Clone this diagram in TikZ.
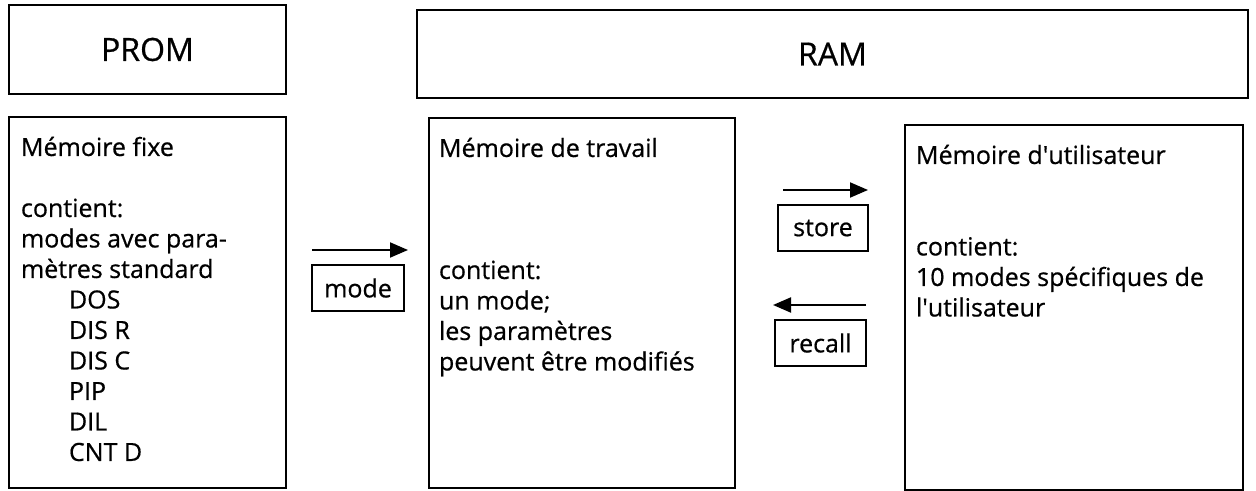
\documentclass[tikz,border=0pt]{standalone}
\usepackage{fontspec}
\setmainfont{Open Sans}[FakeBold=0.6]
\usetikzlibrary{arrows.meta,positioning,calc}

\begin{document}
\begin{tikzpicture}[x=0.5pt,y=-0.5pt,
  box/.style={draw,line width=1.1pt,inner sep=0pt,outer sep=0pt,anchor=north west},
  big/.style={font=\fontsize{16}{19}\selectfont},
  lbl/.style={draw,line width=1pt,inner sep=0pt,outer sep=0pt,minimum height=23pt,
    font=\fontsize{12.5}{15.25}\selectfont},
  txt/.style={inner sep=0pt,outer sep=0pt,font=\fontsize{12.5}{15.25}\selectfont},
  arr/.style={line width=1pt,-{Triangle[length=9pt,width=7.5pt]}}]
\useasboundingbox (0,0) rectangle (1256,491);

\node[box,big,minimum width=138.5pt,minimum height=44.5pt] (prom) at (9,5) {PROM};
\node[box,big,minimum width=415.5pt,minimum height=44pt] (ram) at (417,10) {RAM};

\node[box,minimum width=138.5pt,minimum height=185.5pt] (fixe) at (9,117) {};
\node[box,minimum width=153pt,minimum height=185pt] (travail) at (429,118) {};
\node[box,minimum width=169pt,minimum height=182.5pt] (util) at (905,125) {};

\node[txt,below right=8.8pt and 6pt of fixe.north west] (fixetxt) {%
\begin{tabular}{@{}l@{}}
Mémoire fixe\\
\\
contient:\\
modes avec para-\\
mètres standard\\
\hspace{24pt}DOS\\
\hspace{24pt}DIS R\\
\hspace{24pt}DIS C\\
\hspace{24pt}PIP\\
\hspace{24pt}DIL\\
\hspace{24pt}CNT D
\end{tabular}};

\node[txt,below right=8.8pt and 5pt of travail.north west] (travailtxt) {%
\begin{tabular}{@{}l@{}}
Mémoire de travail\\
\\
\\
\\
contient:\\
un mode;\\
les paramètres\\
peuvent être modifiés
\end{tabular}};

\node[txt,below right=8.8pt and 5.5pt of util.north west] (utiltxt) {%
\begin{tabular}{@{}l@{}}
Mémoire d\textquotesingle utilisateur\\
\\
\\
contient:\\
10 modes spécifiques de\\
l\textquotesingle utilisateur
\end{tabular}};

\node[lbl,minimum width=46pt,anchor=north west] (mode) at (312,265) {mode};
\node[lbl,minimum width=45pt,anchor=north west] (store) at (778,205) {store};
\node[lbl,minimum width=45.5pt,anchor=north west] (recall) at (775,320) {recall};

\draw[arr] ([yshift=7.5pt]mode.north west) -- ([yshift=7.5pt,xshift=2pt]mode.north east);
\draw[arr] ([yshift=7.5pt,xshift=2.5pt]store.north west) -- ([yshift=7.5pt]store.north east);
\draw[arr] ([yshift=7.5pt]recall.north east) -- ([yshift=7.5pt,xshift=-1pt]recall.north west);
\end{tikzpicture}
\end{document}
